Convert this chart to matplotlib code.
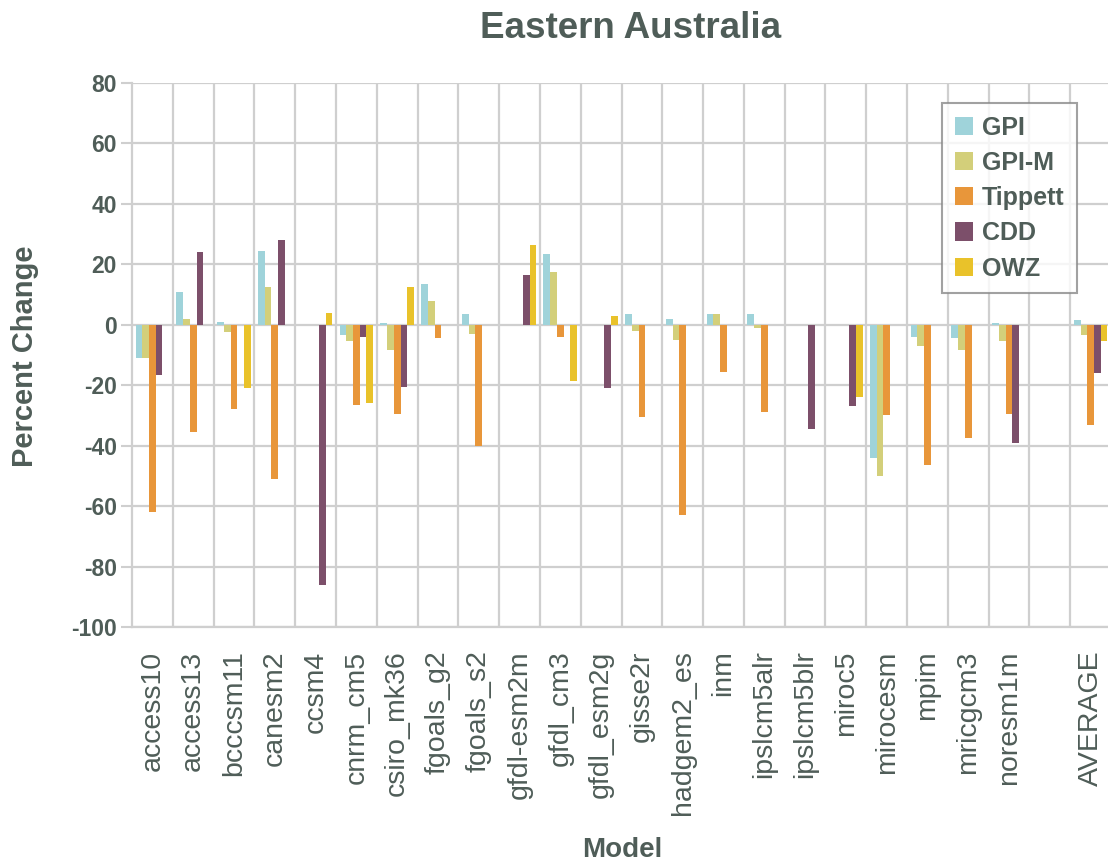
import numpy as np
import matplotlib
matplotlib.use("Agg")
import matplotlib.pyplot as plt
from matplotlib.ticker import MultipleLocator, FixedLocator

plt.rcParams["font.family"] = ["Liberation Sans", "DejaVu Sans"]
plt.rcParams["axes.unicode_minus"] = False

models = ["access10", "access13", "bcccsm11", "canesm2", "ccsm4", "cnrm_cm5",
          "csiro_mk36", "fgoals_g2", "fgoals_s2", "gfdl-esm2m", "gfdl_cm3",
          "gfdl_esm2g", "gisse2r", "hadgem2_es", "inm", "ipslcm5alr",
          "ipslcm5blr", "miroc5", "mirocesm", "mpim", "mricgcm3", "noresm1m",
          "", "AVERAGE"]

gpi = [-11, 11, 1, 24.5, 0, -3.5, 0.5, 13.5, 3.5, 0, 23.5, 0,
       3.5, 2, 3.5, 3.5, 0, 0, -44, -4, -4.5, 0.5, np.nan, 1.5]
gpi_m = [-11, 2, -2.5, 12.5, 0, -5.5, -8.5, 8, -3, 0, 17.5, 0,
         -2, -5, 3.5, -1, 0, 0, -50, -7, -8.5, -5.5, np.nan, -3.5]
tippett = [-62, -35.5, -28, -51, 0, -26.5, -29.5, -4.5, -40, 0, -4, 0,
           -30.5, -63, -15.5, -29, 0, 0, -30, -46.5, -37.5, -29.5, np.nan, -33]
cdd = [-16.5, 24, 0, 28, -86, -4, -20.5, 0, 0, 16.5, 0, -21,
       0, 0, 0, 0, -34.5, -27, 0, 0, 0, -39, np.nan, -16]
owz = [0, 0, -21, 0, 4, -26, 12.5, 0, 0, 26.5, -18.5, 3,
       0, 0, 0, 0, 0, -24, 0, 0, 0, 0, np.nan, -5.5]

series = [("GPI", gpi, "#9fd3da"),
          ("GPI-M", gpi_m, "#d3cf7a"),
          ("Tippett", tippett, "#e8963a"),
          ("CDD", cdd, "#7c4f6a"),
          ("OWZ", owz, "#e9c22a")]

txt = "#4f5d58"
grid_c = "#cfcfcf"

W, H = 1108, 863
fig = plt.figure(figsize=(W / 100, H / 100), dpi=100)
ax = fig.add_axes([132 / W, 1 - 627 / H, (1111 - 132) / W, 544 / H])

x = np.arange(len(models))
bw = 0.165
for i, (name, vals, col) in enumerate(series):
    ax.bar(x + (i - 2) * bw, vals, width=bw, color=col, linewidth=0,
           label=name, zorder=3)

ax.set_xlim(-0.5, len(models) - 0.5)
ax.set_ylim(-100, 80)
ax.yaxis.set_major_locator(MultipleLocator(20))
ax.set_xticks(x)
ax.set_xticklabels(models, rotation=90, fontsize=20.5, color=txt)
ax.xaxis.set_minor_locator(FixedLocator(np.arange(0.5, len(models), 1.0)))
ax.tick_params(axis="x", which="both", length=0, pad=17)
ax.tick_params(axis="y", length=8, width=1.5, color=grid_c, labelsize=16.5,
               labelcolor=txt, pad=3)
for lab in ax.get_yticklabels():
    lab.set_fontweight("bold")

ax.grid(True, axis="y", which="major", color=grid_c, lw=1.6, zorder=0)
ax.grid(True, axis="x", which="minor", color=grid_c, lw=1.6, zorder=0)
for s in ["top", "right"]:
    ax.spines[s].set_visible(False)
for s in ["left", "bottom"]:
    ax.spines[s].set_color(grid_c)
    ax.spines[s].set_linewidth(1.6)

fig.text(631 / W, 1 - 29 / H, "Eastern Australia", ha="center", va="center",
         fontsize=26.5, fontweight="bold", color=txt)
fig.text(25 / W, 1 - 356 / H, "Percent Change", ha="center", va="center",
         rotation=90, fontsize=21, fontweight="bold", color=txt)
fig.text(622 / W, 1 - 850 / H, "Model", ha="center", va="center",
         fontsize=20, fontweight="bold", color=txt)

leg = ax.legend(loc="upper left", bbox_to_anchor=((942 - 132) / (1111 - 132), (627 - 103) / 544),
                fontsize=18, frameon=True, fancybox=False, handlelength=0.75,
                handleheight=0.75, handletextpad=0.35, labelspacing=0.45,
                borderpad=0.5, borderaxespad=0)
leg.get_frame().set_edgecolor("#8a8a8a")
leg.get_frame().set_linewidth(1.5)
for t in leg.get_texts():
    t.set_color(txt)
    t.set_fontweight("bold")

fig.savefig("out.png", dpi=100)
